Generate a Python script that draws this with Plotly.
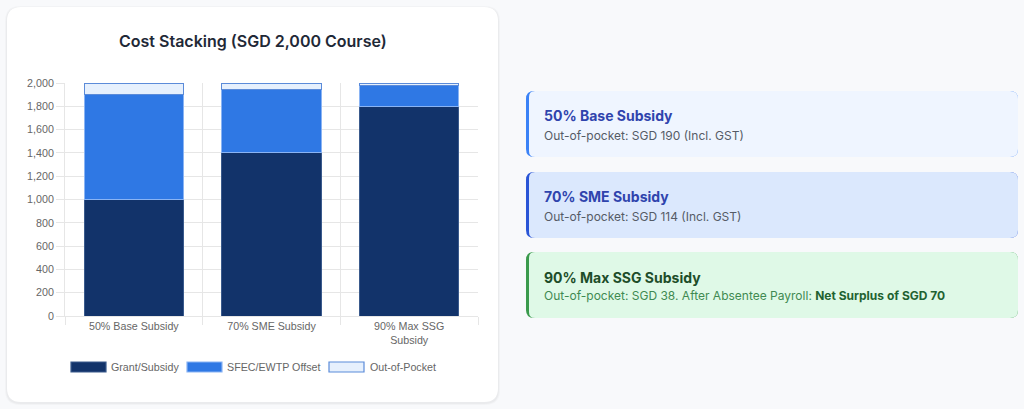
import plotly.graph_objects as go

# ---------------- data ----------------
categories = ["50% Base Subsidy", "70% SME Subsidy", "90% Max SSG Subsidy"]
tick_labels = ["50% Base Subsidy", "70% SME Subsidy", "90% Max SSG<br>Subsidy"]
grant_subsidy = [1000, 1400, 1800]
sfec_offset = [900, 540, 180]
out_of_pocket = [100, 60, 20]
y_ticks = [0, 200, 400, 600, 800, 1000, 1200, 1400, 1600, 1800, 2000]
series_names = ["Grant/Subsidy", "SFEC/EWTP Offset", "Out-of-Pocket"]
chart_title = "Cost Stacking (SGD 2,000 Course)"
card_titles = ["50% Base Subsidy", "70% SME Subsidy", "90% Max SSG Subsidy"]
card_texts = [
    "Out-of-pocket: SGD 190 (Incl. GST)",
    "Out-of-pocket: SGD 114 (Incl. GST)",
    "Out-of-pocket: SGD 38. After Absentee Payroll: ",
]
card3_bold = "Net Surplus of SGD 70"

# ---------------- styles ----------------
FILL = ["#12336a", "#2f78e4", "#e6f0fd"]
LINE = ["#3a5a8c", "#8ab4f4", "#5b8bd9"]
AX_FONT = "Liberation Sans, Arial, sans-serif"
UI_FONT = "Inter, Roboto, sans-serif"

W_FIG, H_FIG = 1024, 409
L, R, T, B = 65, 478, 83, 316
PW, PH = R - L, B - T


def px(x):
    return (x - L) / PW


def py(y):
    return (B - y) / PH


def rrect(x0, y0, x1, y1, r, rl=None):
    """rounded rect path in paper coords from pixel coords"""
    rlft = r if rl is None else rl
    def P(x, y):
        return f"{px(x):.5f},{py(y):.5f}"
    return (
        f"M{P(x0 + rlft, y0)} L{P(x1 - r, y0)} Q{P(x1, y0)} {P(x1, y0 + r)} "
        f"L{P(x1, y1 - r)} Q{P(x1, y1)} {P(x1 - r, y1)} "
        f"L{P(x0 + rlft, y1)} Q{P(x0, y1)} {P(x0, y1 - rlft)} "
        f"L{P(x0, y0 + rlft)} Q{P(x0, y0)} {P(x0 + rlft, y0)} Z"
    )


fig = go.Figure()
for vals, name, fc, lc in zip([grant_subsidy, sfec_offset, out_of_pocket], series_names, FILL, LINE):
    fig.add_trace(go.Bar(
        x=categories, y=vals, name=name,
        marker=dict(color=fc, line=dict(color=lc, width=1)),
        showlegend=False,
    ))

shapes = []
# left card shadow + card
shapes.append(dict(type="path", xref="paper", yref="paper", layer="below",
                   path=rrect(5, 6, 500, 405, 15), fillcolor="rgba(0,0,0,0.025)", line=dict(width=0)))
shapes.append(dict(type="path", xref="paper", yref="paper", layer="below",
                   path=rrect(6, 7, 499, 404, 14), fillcolor="rgba(0,0,0,0.03)", line=dict(width=0)))
shapes.append(dict(type="path", xref="paper", yref="paper", layer="below",
                   path=rrect(7, 7, 498, 402, 14), fillcolor="#ffffff", line=dict(width=0)))

# legend swatches
legend_boxes = [(71, 106), (187, 222), (329, 364)]
for (x0, x1), fc, lc in zip(legend_boxes, FILL, LINE):
    shapes.append(dict(type="rect", xref="paper", yref="paper",
                       x0=px(x0), x1=px(x1), y0=py(372), y1=py(362),
                       fillcolor=fc, line=dict(color=lc, width=1.2)))

# right cards
cards = [
    (91, 157, "#eff5ff", "#3b82f6"),
    (172, 238, "#dbe8fd", "#2a55d6"),
    (252, 318, "#dff9e7", "#3a9a4c"),
]
for y0, y1, bg, bc in cards:
    shapes.append(dict(type="path", xref="paper", yref="paper", layer="below",
                       path=rrect(526, y0, 1018, y1, 8), fillcolor=bc, line=dict(width=0)))
    shapes.append(dict(type="path", xref="paper", yref="paper", layer="below",
                       path=rrect(529, y0, 1018, y1, 8, rl=6), fillcolor=bg, line=dict(width=0)))

annotations = []
annotations.append(dict(xref="paper", yref="paper", x=px(253), y=py(41), xanchor="center", yanchor="middle",
                        text=chart_title, showarrow=False,
                        font=dict(family=UI_FONT, size=16, weight=600, color="#1f2937")))
legend_text_x = [108.5, 224.5, 367.5]
for tx, name in zip(legend_text_x, series_names):
    annotations.append(dict(xref="paper", yref="paper", x=px(tx), y=py(367), xanchor="left", yanchor="middle",
                            text=name, showarrow=False,
                            font=dict(family=AX_FONT, size=10.7, color="#666666")))

title_y = [115.7, 196.7, 277.3]
sub_y = [135, 216, 295.7]
title_colors = ["#2f44ad", "#2f44ad", "#1d4d29"]
sub_colors = ["#555b66", "#555b66", "#3f8a52"]
for i in range(3):
    annotations.append(dict(xref="paper", yref="paper", x=px(542), y=py(title_y[i]), xanchor="left", yanchor="middle",
                            text=f"<b>{card_titles[i]}</b>", showarrow=False,
                            font=dict(family=UI_FONT, size=14, color=title_colors[i])))
    txt = card_texts[i]
    if i == 2:
        txt = txt + f"<b><span style='color:#1f6231'>{card3_bold}</span></b>"
    annotations.append(dict(xref="paper", yref="paper", x=px(542), y=py(sub_y[i]), xanchor="left", yanchor="middle",
                            text=txt, showarrow=False,
                            font=dict(family=UI_FONT, size=12, color=sub_colors[i])))

fig.update_layout(
    width=W_FIG, height=H_FIG,
    margin=dict(l=L, r=W_FIG - R, t=T, b=H_FIG - B, pad=0),
    barmode="stack", bargap=0.28,
    paper_bgcolor="#f8f9fb", plot_bgcolor="rgba(0,0,0,0)",
    shapes=shapes, annotations=annotations,
    xaxis=dict(
        tickmode="array", tickvals=categories, ticktext=tick_labels,
        tickson="boundaries", showgrid=True, gridcolor="#e6e6e6", gridwidth=1,
        ticks="outside", ticklen=8, tickcolor="#e6e6e6",
        showline=True, linecolor="#e6e6e6", linewidth=1,
        tickfont=dict(family=AX_FONT, size=10.7, color="#666666"),
        fixedrange=True,
    ),
    yaxis=dict(
        range=[0, 2000], tickvals=y_ticks, tickformat=",d",
        showgrid=True, gridcolor="#e6e6e6", gridwidth=1, zeroline=False,
        ticks="outside", ticklen=8, tickcolor="#e6e6e6",
        showline=True, linecolor="#e6e6e6", linewidth=1,
        tickfont=dict(family=AX_FONT, size=10.7, color="#666666"),
        fixedrange=True,
    ),
)

fig.write_html("out.html")
